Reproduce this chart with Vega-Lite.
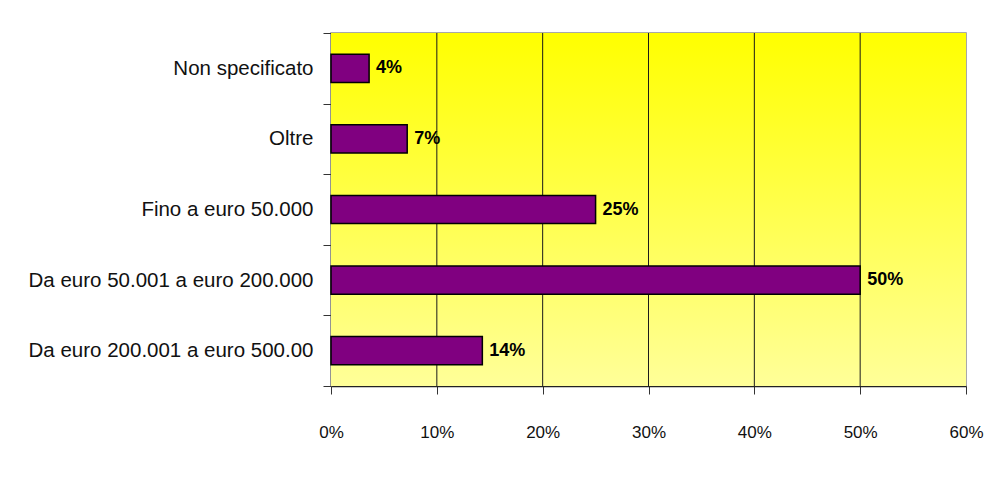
{
  "$schema": "https://vega.github.io/schema/vega-lite/v6.json",
  "width": 635,
  "height": 353,
  "autosize": {"type": "none"},
  "padding": {"left": 331, "top": 33, "right": 21, "bottom": 100},
  "background": "white",
  "config": {
    "view": {"stroke": "#8c8c8c", "strokeWidth": 1.5},
    "font": "Liberation Sans"
  },
  "layer": [
    {
      "data": {"values": [{"lo": 0, "hi": 0.6}]},
      "mark": {
        "type": "rect",
        "fill": {
          "gradient": "linear",
          "x1": 0, "y1": 0, "x2": 0, "y2": 1,
          "stops": [
            {"offset": 0, "color": "#ffff00"},
            {"offset": 1, "color": "#ffff99"}
          ]
        }
      },
      "encoding": {
        "x": {"field": "lo", "type": "quantitative", "scale": {"domain": [0, 0.6]}},
        "x2": {"field": "hi"}
      }
    },
    {
      "data": {"values": [{"g": 0.1}, {"g": 0.2}, {"g": 0.3}, {"g": 0.4}, {"g": 0.5}]},
      "mark": {"type": "rule", "color": "#1a1a1a", "strokeWidth": 1},
      "encoding": {
        "x": {"field": "g", "type": "quantitative"}
      }
    },
    {
      "data": {
        "values": [
          {"cat": "Non specificato", "v": 0.036},
          {"cat": "Oltre", "v": 0.072},
          {"cat": "Fino a euro 50.000", "v": 0.25},
          {"cat": "Da euro 50.001 a euro 200.000", "v": 0.50},
          {"cat": "Da euro 200.001 a euro 500.00", "v": 0.143}
        ]
      },
      "encoding": {
        "y": {
          "field": "cat", "type": "nominal", "sort": null,
          "scale": {"paddingInner": 0, "paddingOuter": 0},
          "axis": {
            "title": null,
            "tickBand": "extent",
            "tickSize": 8,
            "tickColor": "#333",
            "domainColor": "#555",
            "domainWidth": 1.5,
            "labelFontSize": 20.5,
            "labelColor": "#111",
            "labelPadding": 10,
            "labelLimit": 0,
            "labelFont": "Liberation Sans"
          }
        }
      },
      "layer": [
        {
          "mark": {"type": "bar", "color": "#800080", "stroke": "black", "strokeWidth": 1.5, "height": {"band": 0.4}},
          "encoding": {
            "x": {
              "field": "v", "type": "quantitative",
              "scale": {"domain": [0, 0.6], "nice": false},
              "axis": {
                "title": null,
                "format": ".0%",
                "values": [0, 0.1, 0.2, 0.3, 0.4, 0.5, 0.6],
                "grid": false,
                "tickSize": 8,
                "tickColor": "#333",
                "domainColor": "#222",
                "domainWidth": 1.5,
                "labelFontSize": 17,
                "labelColor": "#111",
                "labelPadding": 30,
                "labelFlush": false,
                "labelFont": "Liberation Sans"
              }
            }
          }
        },
        {
          "mark": {"type": "text", "align": "left", "baseline": "middle", "dx": 7, "fontWeight": "bold", "fontSize": 18, "font": "Liberation Sans", "color": "black"},
          "encoding": {
            "x": {"field": "v", "type": "quantitative"},
            "text": {"field": "v", "type": "quantitative", "format": ".0%"}
          }
        }
      ]
    }
  ]
}
